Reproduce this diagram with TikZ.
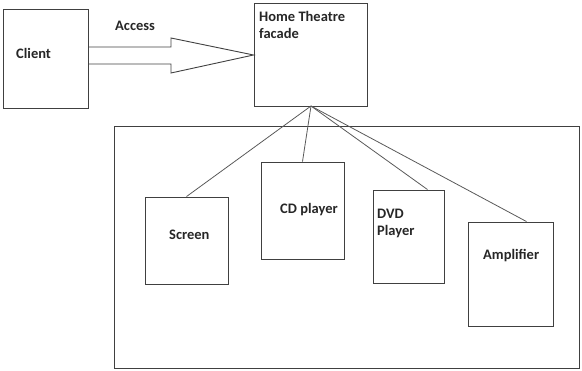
\documentclass[tikz,border=0pt]{standalone}
\usepackage{fontspec}
\setmainfont{Carlito}
\begin{document}
\begin{tikzpicture}[x=1pt,y=-1pt,
  box/.style={draw=black!75,line width=0.9pt,inner sep=0pt},
  lbl/.style={font=\bfseries\fontsize{14.5}{17}\selectfont,text=black!85,inner sep=0pt,anchor=base west,align=left},
  link/.style={draw=black!65,line width=0.8pt}]
\useasboundingbox (0,0) rectangle (582,371);
% boxes
\node[box,minimum width=85pt,minimum height=99pt] (client) at (45.5,58.5) {};
\node[lbl] (clientt) at (16,59) {Client};
\node[box,minimum width=113pt,minimum height=103pt] (facade) at (310.5,54.5) {};
\node[lbl] (facadet) at (259,22) {Home Theatre};
\node[lbl] (facadet2) at (259,39) {facade};
\node[box,minimum width=465pt,minimum height=242pt] (sub) at (346.5,247) {};
\node[box,minimum width=83pt,minimum height=87pt] (screen) at (186.5,240.5) {};
\node[lbl] (screent) at (169,240) {Screen};
\node[box,minimum width=83pt,minimum height=97pt] (cd) at (302.5,210.5) {};
\node[lbl] (cdt) at (280,214) {CD player};
\node[box,minimum width=71pt,minimum height=93pt] (dvd) at (408.5,236.5) {};
\node[lbl] (dvdt) at (377,219) {DVD};
\node[lbl] (dvdt2) at (377,236) {Player};
\node[box,minimum width=85pt,minimum height=104pt] (amp) at (510.5,274) {};
\node[lbl] (ampt) at (483,260) {Amplifier};
% access arrow
\coordinate (hub) at (311,106);
\draw[box] (client.east |- 0,47) -- (171,47) -- (171,38) -- (facade.west |- 0,55) -- (171,73) -- (171,64) -- (client.east |- 0,64);
\node[lbl] (access) at (115,31) {Access};
% links
\draw[link] (hub) -- (screen.north);
\draw[link] (hub) -- (cd.north);
\draw[link] (hub) -- ([xshift=19pt]dvd.north);
\draw[link] (hub) -- ([xshift=16pt]amp.north);
\end{tikzpicture}
\end{document}
